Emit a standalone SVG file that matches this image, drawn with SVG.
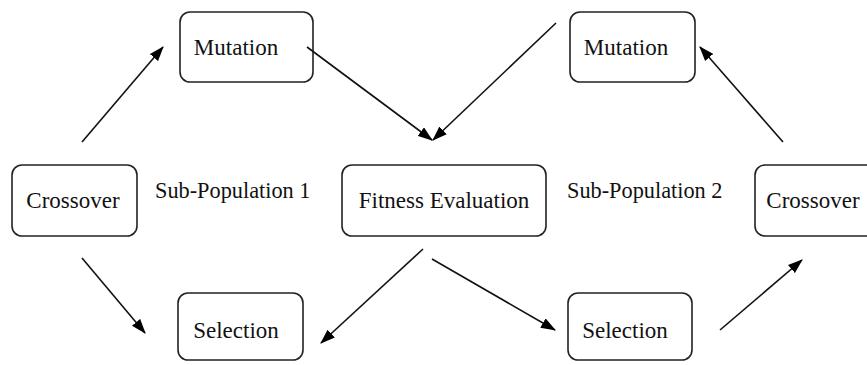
<svg xmlns="http://www.w3.org/2000/svg" width="867" height="365" viewBox="0 0 867 365">
<defs>
<marker id="ah" viewBox="0 0 14 10" refX="13" refY="5" markerWidth="15" markerHeight="11" markerUnits="userSpaceOnUse" orient="auto">
<path d="M0,0 L14,5 L0,10 Z" fill="#000"/>
</marker>
<style>
.box{fill:#fff;stroke:#222;stroke-width:1.6}
text{font-family:'Liberation Serif','DejaVu Serif',serif;font-size:22.3px;fill:#111}
.t{text-anchor:middle;font-size:23px}
.c{stroke:#111;stroke-width:1.6;fill:none;marker-end:url(#ah)}
</style>
</defs>
<rect width="867" height="365" fill="#fff"/>
<g font-family="Liberation Serif, serif">
<g id="mutation1"><rect class="box" x="180" y="12" width="133" height="70" rx="10"/><text class="t" x="236" y="55">Mutation</text></g>
<g id="crossover1"><rect class="box" x="12" y="165" width="125" height="71" rx="10"/><text class="t" x="73" y="208">Crossover</text></g>
<g id="selection1"><rect class="box" x="178" y="293" width="125" height="67" rx="10"/><text class="t" x="236" y="338">Selection</text></g>
<g id="fitness"><rect class="box" x="342" y="165" width="204" height="71" rx="10"/><text class="t" x="444" y="208">Fitness Evaluation</text></g>
<g id="mutation2"><rect class="box" x="570" y="12" width="125" height="70" rx="10"/><text class="t" x="626" y="55">Mutation</text></g>
<g id="selection2"><rect class="box" x="568" y="293" width="124" height="67" rx="10"/><text class="t" x="625" y="338">Selection</text></g>
<g id="crossover2"><rect class="box" x="755" y="165" width="125" height="71" rx="10"/><text class="t" x="813" y="208">Crossover</text></g>
<g id="labels"><text x="155" y="198">Sub-Population 1</text><text x="567" y="198">Sub-Population 2</text></g>
</g>
<g id="connectors">
<line class="c" x1="82" y1="142" x2="163" y2="47"/>
<line class="c" x1="82" y1="258" x2="145" y2="333"/>
<line class="c" x1="307" y1="47" x2="432" y2="140"/>
<line class="c" x1="556" y1="23" x2="433" y2="140"/>
<line class="c" x1="423" y1="249" x2="321" y2="343"/>
<line class="c" x1="432" y1="259" x2="555" y2="330"/>
<line class="c" x1="720" y1="330" x2="802" y2="260"/>
<line class="c" x1="783" y1="142" x2="700" y2="47"/>
</g>
</svg>
